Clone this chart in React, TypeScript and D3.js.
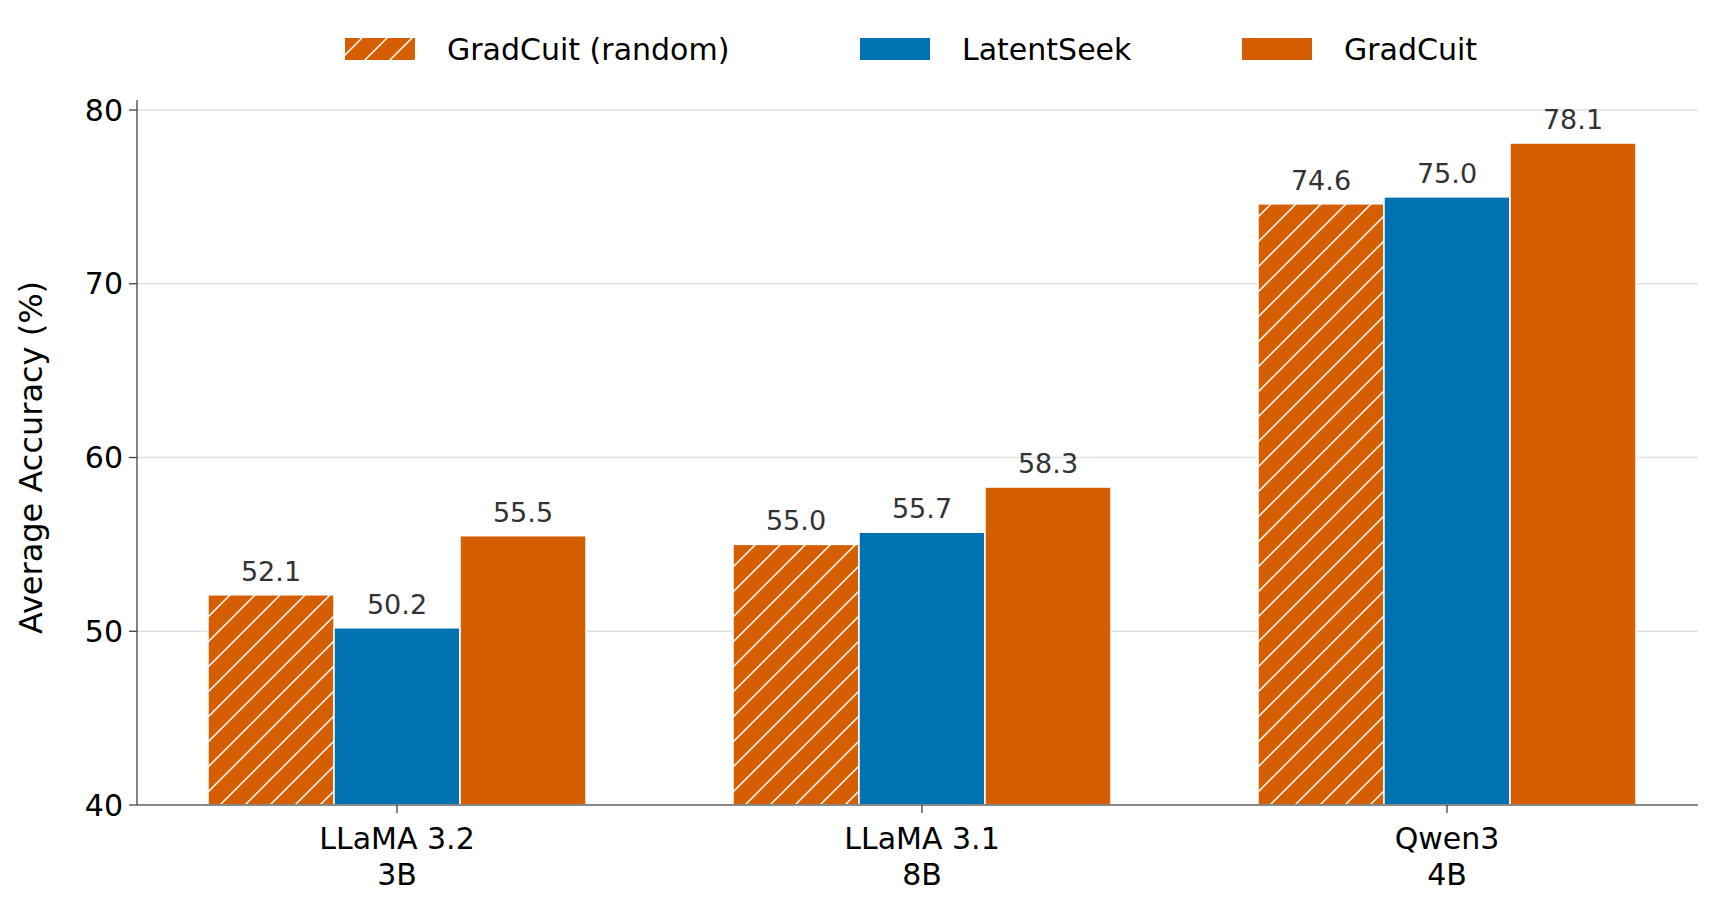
import React from "react";
import * as d3 from "d3";

const categories = ["LLaMA 3.2\n3B", "LLaMA 3.1\n8B", "Qwen3\n4B"];
const series = ["GradCuit (random)", "LatentSeek", "GradCuit"];
const randomVals = [52.1, 55.0, 74.6];
const latentVals = [50.2, 55.7, 75.0];
const gradVals = [55.5, 58.3, 78.1];
const yTicks = [40, 50, 60, 70, 80];

const ORANGE = "#d55e00";
const BLUE = "#0072b2";
const font = "DejaVu Sans, sans-serif";

export default function App() {
  const W = 1720, H = 916;
  const left = 137, right = 1698, top = 110, bottom = 805;
  const y = d3.scaleLinear().domain([40, 80]).range([bottom, top]);
  const x = d3.scalePoint<string>().domain(categories).range([397, 1447]);
  const bw = 126;
  const vals = [randomVals, latentVals, gradVals];
  const fills = ["url(#hatch)", BLUE, ORANGE];
  const legendX = [345, 860, 1242];

  return (
    <svg width={W} height={H} style={{ display: "block", margin: "-8px" }} fontFamily={font}>
      <defs>
        <pattern id="hatch" patternUnits="userSpaceOnUse" width="25" height="25">
          <rect width="25" height="25" fill={ORANGE} />
          <path d="M-5,5 L5,-5 M0,25 L25,0 M20,30 L30,20" stroke="white" strokeWidth="1.5" />
        </pattern>
      </defs>
      {yTicks.map((t) => (
        <g key={t}>
          {t > 40 && <line x1={left} x2={right} y1={y(t)} y2={y(t)} stroke="#e0e0e0" strokeWidth={1.5} />}
          <line x1={left - 8} x2={left} y1={y(t)} y2={y(t)} stroke="#333" strokeWidth={1.2} />
          <text x={left - 14} y={y(t)} dy="0.35em" textAnchor="end" fontSize={30}>{t}</text>
        </g>
      ))}
      {categories.map((c, i) =>
        vals.map((v, s) => {
          const cx = x(c)! + (s - 1) * bw;
          return (
            <g key={c + s}>
              <rect x={cx - bw / 2} y={y(v[i])} width={bw} height={bottom - y(v[i])} fill={fills[s]} stroke="white" strokeWidth={1.5} />
              <text x={cx} y={y(v[i]) - 14} textAnchor="middle" fontSize={27} fill="#333">{v[i].toFixed(1)}</text>
            </g>
          );
        })
      )}
      <line x1={left} x2={right} y1={bottom} y2={bottom} stroke="#888" strokeWidth={2} />
      <line x1={left} x2={left} y1={top - 10} y2={bottom} stroke="#333" strokeWidth={1.2} />
      {categories.map((c) => (
        <g key={c}>
          <line x1={x(c)} x2={x(c)} y1={bottom} y2={bottom + 8} stroke="#333" strokeWidth={1.2} />
          {c.split("\n").map((l, k) => (
            <text key={k} x={x(c)} y={bottom + 44 + k * 36} textAnchor="middle" fontSize={30}>{l}</text>
          ))}
        </g>
      ))}
      <text transform={`translate(42,${(top + bottom) / 2}) rotate(-90)`} textAnchor="middle" fontSize={32}>Average Accuracy (%)</text>
      {series.map((s, i) => (
        <g key={s}>
          <rect x={legendX[i]} y={38} width={70} height={22} fill={fills[i]} />
          <text x={legendX[i] + 102} y={49} dy="0.35em" fontSize={30}>{s}</text>
        </g>
      ))}
    </svg>
  );
}
